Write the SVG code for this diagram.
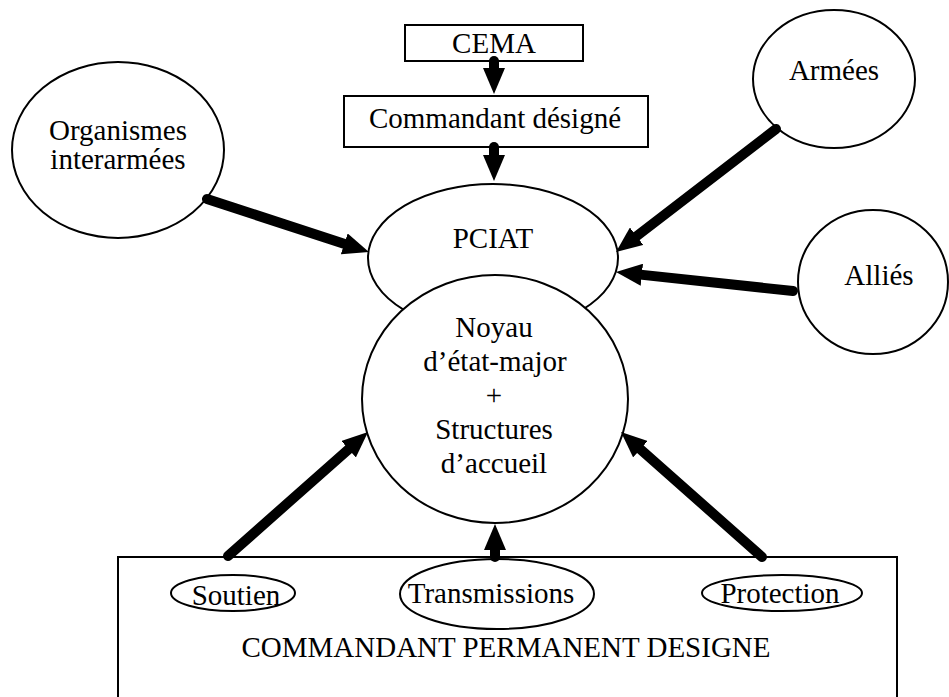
<svg xmlns="http://www.w3.org/2000/svg" width="949" height="697" viewBox="0 0 949 697">
<style>
.shape{fill:#fff;stroke:#000;stroke-width:2}
text{font-family:'Liberation Serif','Times New Roman','DejaVu Serif',serif;font-size:29px;fill:#000;text-anchor:middle}
.arr{stroke:#000;stroke-width:10;stroke-linecap:round;fill:none;marker-end:url(#head)}
</style>
<defs>
<marker id="head" markerUnits="userSpaceOnUse" viewBox="0 0 26 22" markerWidth="26" markerHeight="22" refX="11" refY="11" orient="auto">
<path d="M0,0 L26,11 L0,22 z" fill="#000"/>
</marker>
</defs>
<rect width="949" height="697" fill="#fff"/>
<g font-family="Liberation Serif, serif">
<g id="cema"><rect class="shape" x="405" y="25" width="178" height="36"/><text x="494" y="53">CEMA</text></g>
<g id="commandant"><rect class="shape" x="344" y="96" width="304" height="51"/><text x="495" y="128">Commandant désigné</text></g>
<g id="organismes"><ellipse class="shape" cx="118" cy="150" rx="106" ry="88"/><text x="118" y="140">Organismes</text><text x="118" y="169">interarmées</text></g>
<g id="armees"><ellipse class="shape" cx="834" cy="79" rx="81" ry="69"/><text x="834" y="80">Armées</text></g>
<g id="allies"><ellipse class="shape" cx="873" cy="282" rx="75" ry="72"/><text x="879" y="285">Alliés</text></g>
<g id="pciat"><ellipse class="shape" cx="493" cy="258" rx="125" ry="74"/><text x="493" y="248">PCIAT</text></g>
<g id="noyau"><ellipse class="shape" cx="495" cy="399" rx="133" ry="124"/>
<text x="494" y="337">Noyau</text>
<text x="495" y="371">d’état-major</text>
<text x="494" y="405">+</text>
<text x="494" y="439">Structures</text>
<text x="494" y="473">d’accueil</text></g>
<g id="permanent"><path class="shape" fill="none" d="M118,700 V557 H897 V700"/>
<text x="506" y="657">COMMANDANT PERMANENT DESIGNE</text></g>
<g id="soutien"><ellipse class="shape" cx="233" cy="593" rx="62" ry="18"/><text x="236" y="605">Soutien</text></g>
<g id="transmissions"><ellipse class="shape" cx="497" cy="594" rx="97" ry="35"/><text x="491" y="603">Transmissions</text></g>
<g id="protection"><ellipse class="shape" cx="782" cy="593" rx="80" ry="18"/><text x="780" y="603">Protection</text></g>
</g>
<g id="connectors">
<path class="arr" d="M494,61 L494,79"/>
<path class="arr" d="M494,147 L494,166"/>
<path class="arr" d="M207,199 L354.7,247.3"/>
<path class="arr" d="M776,129 L627.9,242.9"/>
<path class="arr" d="M793,291 L630.9,273.6"/>
<path class="arr" d="M228,556 L356.8,441.9"/>
<path class="arr" d="M495,557 L495,539"/>
<path class="arr" d="M762,557 L632.2,441.9"/>
</g>
</svg>
